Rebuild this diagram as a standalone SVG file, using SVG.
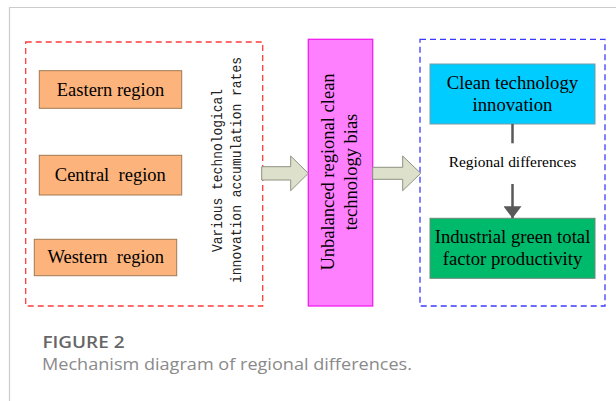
<svg xmlns="http://www.w3.org/2000/svg" width="616" height="401" viewBox="0 0 616 401">
<defs>
<style>
.serif{font-family:"Liberation Serif","Times New Roman",serif;fill:#000}
.mono{font-family:"Liberation Mono","Courier New",monospace;fill:#222;font-size:14.5px}
.region{fill:#FDB47C;stroke:#A07850;stroke-width:1}
.barrow{fill:#DDE1CC;stroke:#8E9280;stroke-width:1}
.cap{font-family:"Open Sans","Noto Sans",sans-serif}
</style>
<marker id="ah" viewBox="0 0 12 18" refX="12" refY="9" markerWidth="12" markerHeight="18" markerUnits="userSpaceOnUse" orient="auto">
<path d="M0,0 L12,9 L0,18 Z" fill="#595959"/>
</marker>
</defs>
<rect width="616" height="401" fill="#fff"/>
<path d="M9.5,401 V7.5 H616" fill="none" stroke="#cccccc" stroke-width="1.2"/>

<g id="left-group">
<rect x="25.7" y="42" width="237" height="264" fill="none" stroke="#FF3B3B" stroke-width="1.3" stroke-dasharray="6,4"/>
</g>
<g id="eastern">
<rect class="region" x="39.3" y="70.7" width="142.4" height="37.6"/>
<text class="serif" x="110.5" y="96" font-size="18.5" text-anchor="middle">Eastern region</text>
</g>
<g id="central">
<rect class="region" x="39.3" y="155.3" width="142.4" height="39.7"/>
<text class="serif" x="110.3" y="181" font-size="18.5" text-anchor="middle" xml:space="preserve">Central  region</text>
</g>
<g id="western">
<rect class="region" x="34.3" y="239.3" width="142.4" height="36.4"/>
<text class="serif" x="105.8" y="263.3" font-size="18.5" text-anchor="middle" xml:space="preserve">Western  region</text>
</g>
<g id="rates-label">
<text class="mono" transform="translate(222,170.5) rotate(-90)" text-anchor="middle" textLength="163" lengthAdjust="spacingAndGlyphs">Various technological</text>
<text class="mono" transform="translate(241,170) rotate(-90)" text-anchor="middle" textLength="226" lengthAdjust="spacingAndGlyphs">innovation accumulation rates</text>
</g>

<g id="bias">
<rect x="308.3" y="39.3" width="64.4" height="266.7" fill="#FF80FF" stroke="#F020F0" stroke-width="1.3"/>
<text class="serif" font-size="18.5" transform="translate(333.5,172) rotate(-90)" text-anchor="middle">Unbalanced regional clean</text>
<text class="serif" font-size="18.5" transform="translate(356.5,172) rotate(-90)" text-anchor="middle">technology bias</text>
</g>

<g id="right-group">
<rect x="420" y="39.3" width="185" height="266.7" fill="none" stroke="#3B3BFF" stroke-width="1.3" stroke-dasharray="6,4"/>
</g>
<g id="clean-tech">
<rect x="430" y="64" width="165" height="60" fill="#00CCFF" stroke="#7A9AA8" stroke-width="1"/>
<text class="serif" x="512.5" y="89.3" font-size="18.7" text-anchor="middle">Clean technology</text>
<text class="serif" x="512.5" y="111" font-size="18.7" text-anchor="middle">innovation</text>
</g>
<g id="igtfp">
<rect x="430" y="218.3" width="165" height="60" fill="#00BA6C" stroke="#6A8A78" stroke-width="1"/>
<text class="serif" x="512.5" y="243.3" font-size="18.7" text-anchor="middle">Industrial green total</text>
<text class="serif" x="512.5" y="265" font-size="18.7" text-anchor="middle">factor productivity</text>
</g>

<g id="connectors">
<path class="barrow" d="M261.7,166.7 H290.7 V156 L308.3,173.3 L290.7,190.7 V180 H261.7 Z"/>
<path class="barrow" d="M372.7,167.3 H402.7 V156 L420.7,173.3 L402.7,190.7 V179.3 H372.7 Z"/>
<line x1="512.5" y1="124" x2="512.5" y2="143.3" stroke="#595959" stroke-width="2.5"/>
<line x1="512.5" y1="184" x2="512.5" y2="218.3" stroke="#595959" stroke-width="2.5" marker-end="url(#ah)"/>
<text class="serif" x="512.5" y="166.5" font-size="15.4" text-anchor="middle">Regional differences</text>
</g>

<g id="caption">
<text class="cap" x="42.5" y="347.7" font-size="16" font-weight="600" fill="#666" textLength="82" lengthAdjust="spacingAndGlyphs">FIGURE 2</text>
<text class="cap" x="42" y="370" font-size="16.5" fill="#8a8a8a" textLength="370" lengthAdjust="spacingAndGlyphs">Mechanism diagram of regional differences.</text>
</g>
</svg>
